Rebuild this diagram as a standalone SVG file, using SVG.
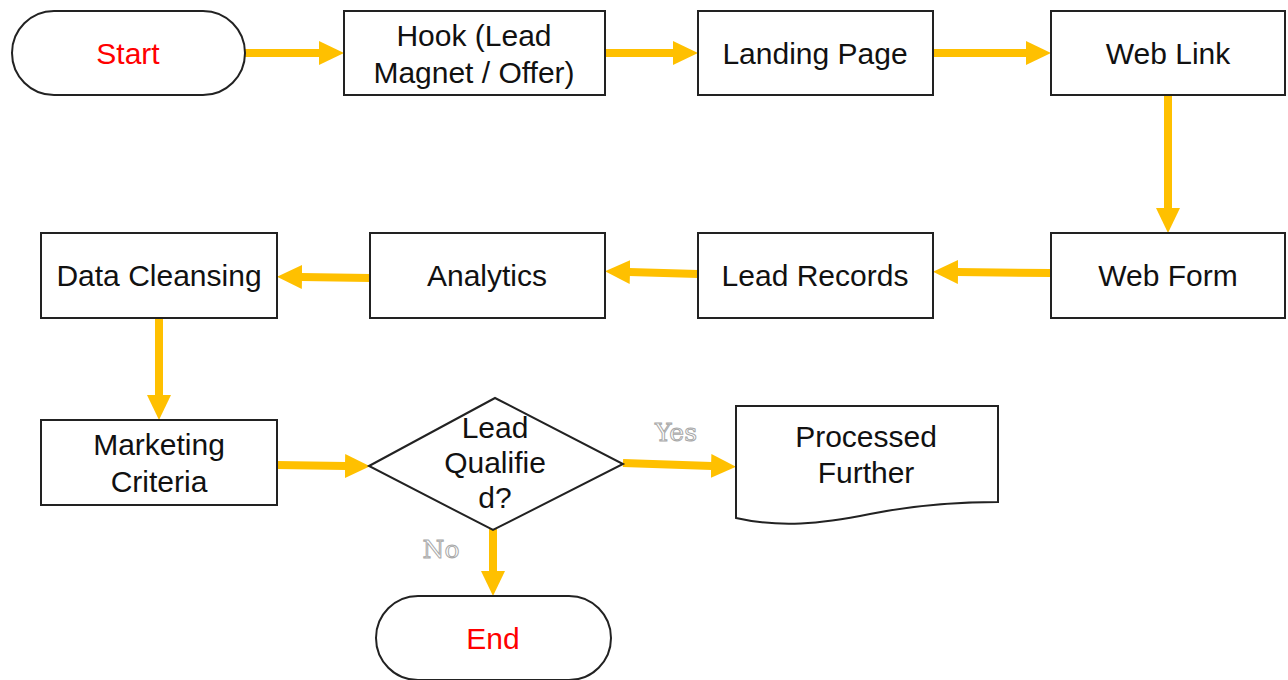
<svg xmlns="http://www.w3.org/2000/svg" width="1288" height="680" viewBox="0 0 1288 680">
  <defs>
    <marker id="head" viewBox="0 0 25 24" refX="1" refY="12" markerUnits="userSpaceOnUse" markerWidth="25" markerHeight="24" orient="auto">
      <path d="M0,0 L25,12 L0,24 Z" fill="#FFC000"/>
    </marker>
  </defs>
  <style>
    .box { fill: #fff; stroke: #222; stroke-width: 2; }
    .txt { font-family: "Liberation Sans", Arial, sans-serif; font-size: 30px; fill: #111; text-anchor: middle; }
    .red { fill: #FF0000; }
    .arrow { stroke: #FFC000; stroke-width: 8; fill: none; marker-end: url(#head); }
    .lbl { font-family: "DejaVu Serif", "Liberation Serif", serif; font-size: 25px; fill: #fff; stroke: #a8a8a8; stroke-width: 1; text-anchor: middle; }
  </style>
  <rect width="1288" height="680" fill="#fff"/>

  <!-- connectors -->
  <g id="connectors">
    <line class="arrow" x1="245" y1="53" x2="320" y2="53"/>
    <line class="arrow" x1="605" y1="53" x2="674" y2="53"/>
    <line class="arrow" x1="933" y1="53" x2="1027" y2="53"/>
    <line class="arrow" x1="1168" y1="95" x2="1168" y2="209"/>
    <line class="arrow" x1="1051" y1="273" x2="957" y2="272"/>
    <line class="arrow" x1="698" y1="274" x2="629" y2="272"/>
    <line class="arrow" x1="370" y1="278" x2="301" y2="277"/>
    <line class="arrow" x1="159" y1="312" x2="159" y2="396"/>
    <line class="arrow" x1="277" y1="465" x2="346" y2="466"/>
    <line class="arrow" x1="623" y1="463" x2="712" y2="466"/>
    <line class="arrow" x1="493" y1="526" x2="493" y2="572"/>
    <text class="lbl" x="676" y="441">Yes</text>
    <text class="lbl" x="441" y="558">No</text>
  </g>

  <g id="start">
    <rect class="box" x="12" y="11" width="233" height="84" rx="42" ry="42"/>
    <text class="txt red" x="128" y="64">Start</text>
  </g>
  <g id="hook">
    <rect class="box" x="344" y="11" width="261" height="84"/>
    <text class="txt" x="474" y="46">Hook (Lead</text>
    <text class="txt" x="474" y="83">Magnet / Offer)</text>
  </g>
  <g id="landing-page">
    <rect class="box" x="698" y="11" width="235" height="84"/>
    <text class="txt" x="815" y="64">Landing Page</text>
  </g>
  <g id="web-link">
    <rect class="box" x="1051" y="11" width="234" height="84"/>
    <text class="txt" x="1168" y="64">Web Link</text>
  </g>
  <g id="web-form">
    <rect class="box" x="1051" y="233" width="234" height="85"/>
    <text class="txt" x="1168" y="286">Web Form</text>
  </g>
  <g id="lead-records">
    <rect class="box" x="698" y="233" width="235" height="85"/>
    <text class="txt" x="815" y="286">Lead Records</text>
  </g>
  <g id="analytics">
    <rect class="box" x="370" y="233" width="235" height="85"/>
    <text class="txt" x="487" y="286">Analytics</text>
  </g>
  <g id="data-cleansing">
    <rect class="box" x="41" y="233" width="236" height="85"/>
    <text class="txt" x="159" y="286">Data Cleansing</text>
  </g>
  <g id="marketing-criteria">
    <rect class="box" x="41" y="420" width="236" height="85"/>
    <text class="txt" x="159" y="455">Marketing</text>
    <text class="txt" x="159" y="492">Criteria</text>
  </g>
  <g id="lead-qualified">
    <path class="box" d="M369,466 L495,398 L623,464 L493,530 Z"/>
    <text class="txt" x="495" y="438">Lead</text>
    <text class="txt" x="495" y="473">Qualifie</text>
    <text class="txt" x="495" y="508">d?</text>
  </g>
  <g id="processed-further">
    <path class="box" d="M736,406 H998 V502 C960,502 920,504 870,514 C820,524 780,528 736,518 Z"/>
    <text class="txt" x="866" y="447">Processed</text>
    <text class="txt" x="866" y="483">Further</text>
  </g>
  <g id="end">
    <rect class="box" x="376" y="596" width="235" height="84" rx="42" ry="42"/>
    <text class="txt red" x="493" y="649">End</text>
  </g>
</svg>
